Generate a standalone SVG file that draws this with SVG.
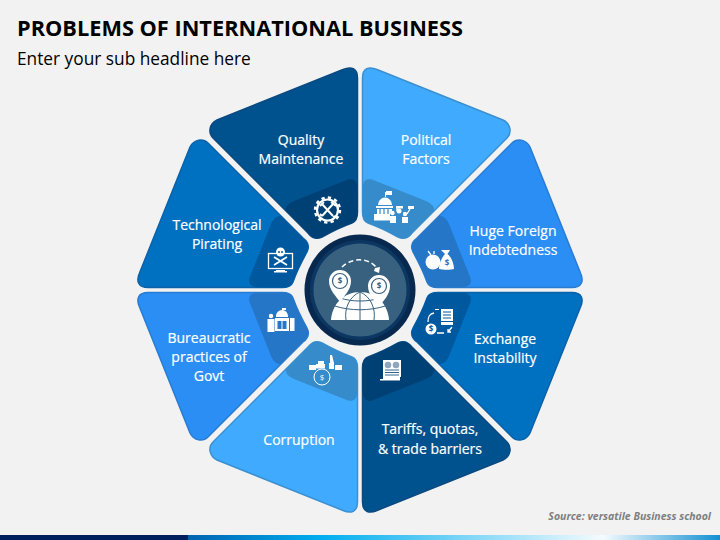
<svg xmlns="http://www.w3.org/2000/svg" width="720" height="540" viewBox="0 0 720 540">
<style>
text{font-family:"Open Sans","Noto Sans","Liberation Sans",sans-serif}
.t{fill:#fff;stroke:#fff;stroke-width:.2;font-size:14px;text-anchor:middle}
.w{fill:#fff;stroke:none}
.l{fill:none;stroke:#fff;stroke-width:1.3}
.d{font-size:8px;font-weight:700;text-anchor:middle}
.lb{fill:#40AAFF;stroke:#3A90D0}.lb2{fill:#368BCB}
.mb{fill:#2A8EF5;stroke:#2A7CD0}.mb2{fill:#2676C8}
.bl{fill:#0070C0;stroke:#0A62A8}.bl2{fill:#00599E}
.db{fill:#00528F;stroke:#0A4A80}.db2{fill:#004175}
.p{stroke-width:1.5}
</style>
<defs>
<path id="petal" d="M2.5 -212C2.5 -222 9 -224 17 -220.500L143 -170C151 -166 152 -157 147 -152L52 -57Q46 -49 38 -53Q22 -62 8 -67Q2.500 -69 2.500 -78Z"/>
<path id="band" d="M2.500 -100Q2.500 -113 12 -110.500L66 -89Q75 -85 74 -79L52 -57Q46 -49 38 -53Q22 -62 8 -67Q2.500 -69 2.500 -78Z"/>
<linearGradient id="bar" x1="0" x2="1" y1="0" y2="0">
<stop offset="0" stop-color="#0062B0"/><stop offset="0.25" stop-color="#00AEEF"/><stop offset="0.78" stop-color="#F4FBFE"/><stop offset="1" stop-color="#1190D2"/>
</linearGradient>
</defs>
<rect width="720" height="540" fill="#F2F2F2"/>
<text x="17" y="36" font-size="22" font-weight="700" fill="#000" textLength="446" lengthAdjust="spacingAndGlyphs">PROBLEMS OF INTERNATIONAL BUSINESS</text>
<text x="17" y="65" font-size="17.300" fill="#000">Enter your sub headline here</text>

<g id="node-quality">
<g transform="translate(360 290) matrix(-1 0 0 1 0 0)"><use href="#petal" class="db p"/><use href="#band" class="db2"/></g>
<text class="t" x="301" y="145">Quality</text><text class="t" x="301" y="164">Maintenance</text>
<circle cx="327.500" cy="210" r="10.500" fill="none" stroke="#fff" stroke-width="2.200"/>
<circle cx="327.500" cy="210" r="12.500" fill="none" stroke="#fff" stroke-width="2.400" stroke-dasharray="3.300 3.240"/>
<path d="M322 204L333 216M333 204L322 216" stroke="#fff" stroke-width="2" fill="none"/>
<path d="M320 206L324 202M331 202l5 4M320 214l2 2M335 216l-2 1" stroke="#fff" stroke-width="1.800" fill="none"/>
</g>

<g id="node-political">
<g transform="translate(360 290)"><use href="#petal" class="lb p"/><use href="#band" class="lb2"/></g>
<text class="t" x="426" y="145">Political</text><text class="t" x="426" y="164">Factors</text>
<path class="w" d="M378 205a7 7.500 0 0 1 14 0ZM376 206h17v2h-17ZM377 209h15v5h-15ZM374 214h16v6.500h-16ZM385 192h1v5h-1ZM386 191h6v4h-6Z"/>
<path d="M380 209v5M384 209v5M388 209v5" stroke="#368BCB" stroke-width="1.200"/>
<circle class="w" cx="392.500" cy="213" r="2.200"/><circle class="w" cx="399" cy="211" r="2.500"/><circle class="w" cx="405" cy="214" r="2.200"/>
<path class="w" d="M390 216h6v7h-6ZM402 217h6v6h-6ZM396 206h7v2.500h-7ZM408 206h6v3h-6Z"/>
<path class="l" d="M397 208v3M410 209l-3 5"/>
</g>

<g id="node-foreign">
<g transform="translate(360 290) matrix(0 -1 -1 0 0 0)"><use href="#petal" class="mb p"/><use href="#band" class="mb2"/></g>
<text class="t" x="513" y="236">Huge Foreign</text><text class="t" x="513" y="255">Indebtedness</text>
<circle class="w" cx="433" cy="262" r="7.500"/>
<path class="w" d="M441 250h9l-2.500 4c4 3 6.500 10 6.500 15c-3 1 -11 1 -15 0c0 -5 3 -12 6 -15Z"/>
<path class="l" d="M431 255l-3 -4M434 254v-3"/>
<text class="d" x="447" y="266" fill="#2676C8">$</text>
</g>

<g id="node-exchange">
<g transform="translate(360 290) matrix(0 1 -1 0 0 0)"><use href="#petal" class="bl p"/><use href="#band" class="bl2"/></g>
<text class="t" x="505" y="344">Exchange</text><text class="t" x="505" y="363">Instability</text>
<path class="w" d="M441 309h12v12h-12ZM441 322h12v3h-12ZM435 309h4v1h-4Z"/>
<path d="M443 312h8M443 315h8M443 318h8" stroke="#00599E" stroke-width="1"/>
<circle class="w" cx="431" cy="329" r="5.500"/><text class="d" x="431" y="332" fill="#00599E">$</text>
<path class="l" d="M428 322c0 -5 1 -8 6 -9M437 333h7M452 327l-4 5M448 329v3h3"/>
</g>

<g id="node-tariffs">
<g transform="translate(360 290) matrix(1 0 0 -1 0 0)"><use href="#petal" class="db p"/><use href="#band" class="db2"/></g>
<text class="t" x="430" y="434">Tariffs, quotas,</text><text class="t" x="430" y="454">&amp; trade barriers</text>
<path class="w" d="M383 360h18v17h-18ZM380 379h20v1.500h-20ZM383 377h17v2h-17Z"/>
<circle cx="388" cy="365" r="3.300" fill="#8FA7BD"/><circle cx="396" cy="365" r="3.300" fill="#8FA7BD"/>
<path d="M385 370h14M385 372.500h14M385 375h14" stroke="#004175" stroke-width=".8"/>
</g>

<g id="node-corruption">
<g transform="translate(360 290) matrix(-1 0 0 -1 0 0)"><use href="#petal" class="lb p"/><use href="#band" class="lb2"/></g>
<text class="t" x="299" y="445">Corruption</text>
<circle cx="322" cy="377" r="8" fill="none" stroke="#fff" stroke-width="1"/>
<text x="322" y="380" fill="#fff" font-size="8" text-anchor="middle">$</text>
<path class="w" d="M309 365h7v5h-7ZM316 364h9v4.500h-9ZM318 361h6v3h-6ZM330 355h2l2 8h-4ZM329 363h5v6h-5ZM335 365h7v5h-7Z"/>
</g>

<g id="node-bureaucratic">
<g transform="translate(360 290) matrix(0 1 1 0 0 0)"><use href="#petal" class="mb p"/><use href="#band" class="mb2"/></g>
<text class="t" x="209" y="343">Bureaucratic</text><text class="t" x="209" y="362">practices of</text><text class="t" x="209" y="381">Govt</text>
<circle class="w" cx="271" cy="316" r="2.200"/><path class="w" d="M267.500 319h7v13h-7Z"/>
<path class="w" d="M276 316a6 6 0 0 1 12 0v1h-12ZM275 318h14v13h-14ZM290 318h4.500v13h-4.500ZM282 308h1v4h-1ZM283 308h3v2h-3Z"/>
<path d="M277.500 321h4v8h-4ZM282.500 321h4v8h-4Z" fill="#2676C8"/>
</g>

<g id="node-technological">
<g transform="translate(360 290) matrix(0 -1 1 0 0 0)"><use href="#petal" class="bl p"/><use href="#band" class="bl2"/></g>
<text class="t" x="217" y="230">Technological</text><text class="t" x="217" y="249">Pirating</text>
<rect x="268.500" y="253.500" width="24" height="15" fill="none" stroke="#fff" stroke-width="1.300"/>
<path class="w" d="M276 270h9v1h2v1.500h-13v-1.500h2Z"/>
<circle class="w" cx="280.500" cy="252" r="4.500"/>
<path d="M274 257L287 265M287 257L274 265" stroke="#fff" stroke-width="1.800"/>
<circle cx="279" cy="252" r="1" fill="#00599E"/><circle cx="282" cy="252" r="1" fill="#00599E"/>
</g>

<g id="node-center">
<circle cx="360" cy="290" r="55.500" fill="#08294F"/>
<circle cx="360" cy="290" r="50" fill="#0D3763"/>
<circle cx="360" cy="290" r="46.500" fill="#38617F"/>
<path class="w" d="M331 320C332 304 344 292 360 292C376 292 388 304 389 320Z"/>
<path d="M360 292V320M346 320C344 308 350 296 360 292C370 296 376 308 374 320M335 306C350 311 370 311 385 306M340 298C352 302 368 302 380 298" fill="none" stroke="#38617F" stroke-width="1"/>
<path class="w" stroke="#38617F" d="M340 302C336 296 329 290 329 281a11 11 0 0 1 22 0C351 290 344 296 340 302Z"/>
<path class="w" stroke="#38617F" d="M379 307C375 301 368 295 368 286a11 11 0 0 1 22 0C390 295 383 301 379 307Z"/>
<circle cx="340" cy="281" r="7.500" fill="none" stroke="#38617F" stroke-width="1.200"/>
<circle cx="379" cy="286" r="7.500" fill="none" stroke="#38617F" stroke-width="1.200"/>
<text class="d" x="340" y="284" fill="#38617F">$</text><text class="d" x="379" y="289" fill="#38617F">$</text>
<path d="M342 267C350 259 366 256 376 267" fill="none" stroke="#fff" stroke-width="1.500" stroke-dasharray="5 3"/>
<path class="w" d="M375 268l5 -1l-1 6l-5 -2Z"/>
</g>

<text x="711" y="520" font-size="10.500" font-weight="700" font-style="italic" fill="#7F7F7F" text-anchor="end">Source: versatile Business school</text>
<rect x="188" y="535" width="532" height="5" fill="url(#bar)"/>
<rect x="0" y="535" width="188" height="5" fill="#001F5F"/>
</svg>
